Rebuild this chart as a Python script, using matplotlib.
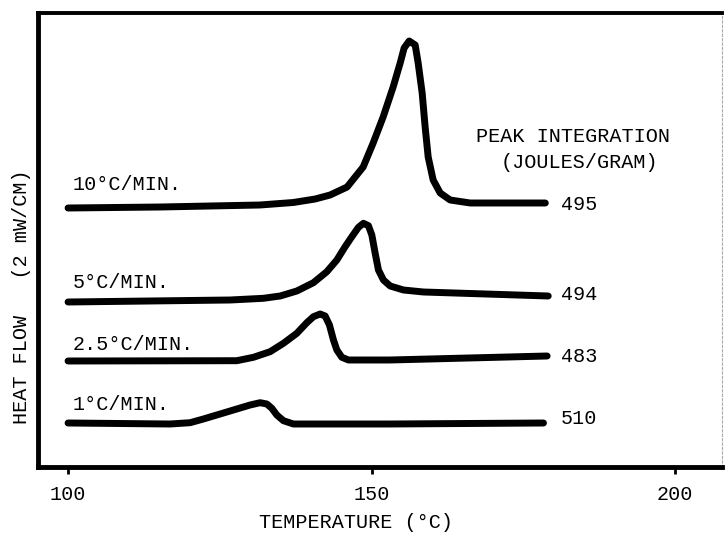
import matplotlib
matplotlib.use("Agg")
import matplotlib.pyplot as plt

plt.rcParams['font.family'] = ['Liberation Mono', 'DejaVu Sans Mono']

# DSC traces: temperature (°C) vs heat flow (arbitrary offset units)
t_10 = [100.0, 115.2, 131.6, 137.1, 140.7, 143.16, 145.96, 148.60, 150.25, 151.89,
        153.54, 154.70, 155.35, 156.18, 157.17, 157.66, 158.32, 158.81, 159.31,
        160.13, 161.29, 162.93, 166.23, 178.6]
q_10 = [25.9, 26.0, 26.2, 26.45, 26.8, 27.2, 28.0, 30.0, 32.4, 35.0,
        38.0, 40.4, 41.9, 42.6, 42.2, 40.4, 37.4, 34.0, 31.0,
        28.7, 27.4, 26.7, 26.4, 26.4]

t_5 = [100.0, 126.69, 132.17, 134.93, 137.68, 140.41, 142.62, 144.27, 145.63,
       146.74, 147.83, 148.65, 149.47, 150.03, 150.58, 151.12, 151.94, 153.05,
       155.24, 158.53, 179.08]
q_5 = [16.5, 16.7, 16.87, 17.1, 17.6, 18.43, 19.53, 20.7, 22.03,
       23.03, 23.97, 24.37, 24.13, 23.2, 21.37, 19.7, 18.7, 18.1,
       17.7, 17.5, 17.1]

t_25 = [100.0, 127.79, 130.53, 133.28, 135.47, 137.68, 139.32, 140.41, 141.52,
        142.34, 143.05, 143.71, 144.27, 145.09, 146.18, 153.0, 178.9]
q_25 = [10.6, 10.63, 10.97, 11.53, 12.37, 13.37, 14.43, 15.03, 15.3,
        15.1, 14.2, 12.7, 11.7, 10.97, 10.7, 10.7, 11.1]

t_1 = [100.0, 116.8, 120.10, 122.29, 125.04, 127.79, 129.98, 131.63, 132.74,
       133.56, 134.38, 135.47, 137.12, 153.0, 178.3]
q_1 = [4.4, 4.3, 4.43, 4.8, 5.3, 5.8, 6.2, 6.43, 6.3,
       5.87, 5.2, 4.63, 4.3, 4.3, 4.4]

rate_labels = ["10°C/MIN.", "5°C/MIN.", "2.5°C/MIN.", "1°C/MIN."]
rate_label_y = [28.2, 18.4, 12.3, 6.2]
peak_values = ["495", "494", "483", "510"]
peak_value_y = [26.2, 17.2, 11.1, 4.8]

xticks = [100, 150, 200]

fig = plt.figure(figsize=(7.25, 5.34), dpi=100)
ax = fig.add_axes([38 / 725, 67 / 534, 684 / 725, 454 / 534])

for t, q in [(t_10, q_10), (t_5, q_5), (t_25, q_25), (t_1, q_1)]:
    ax.plot(t, q, color='black', lw=5.0, solid_joinstyle='round',
            solid_capstyle='round')

ax.set_xlim(95.05, 207.7)
ax.set_ylim(0, 45.4)

ax.set_xticks(xticks)
ax.set_xticklabels([str(v) for v in xticks], fontsize=14.5)
ax.tick_params(axis='x', direction='out', length=5, width=2, pad=8)
ax.set_yticks([])

ax.spines['left'].set_linewidth(3.5)
ax.spines['bottom'].set_linewidth(3.5)
ax.spines['top'].set_linewidth(2.8)
ax.spines['right'].set_linewidth(0.8)
ax.spines['right'].set_color('#aaaaaa')
ax.spines['right'].set_linestyle((0, (2, 2)))

for lab, y in zip(rate_labels, rate_label_y):
    ax.text(100.8, y, lab, fontsize=14.5, ha='left', va='center')

for val, y in zip(peak_values, peak_value_y):
    ax.text(181.2, y, val, fontsize=14.5, ha='left', va='center')

ax.text(183.2, 33.0, "PEAK INTEGRATION", fontsize=14.5, ha='center', va='center')
ax.text(184.3, 30.4, "(JOULES/GRAM)", fontsize=14.5, ha='center', va='center')

fig.text(22 / 725, (534 - 297) / 534, "HEAT FLOW   (2 mW/CM)", rotation=90,
         fontsize=14.5, ha='center', va='center')
fig.text(356 / 725, 12 / 534, "TEMPERATURE (°C)", fontsize=14.5,
         ha='center', va='center')

fig.savefig("out.png", dpi=100)
